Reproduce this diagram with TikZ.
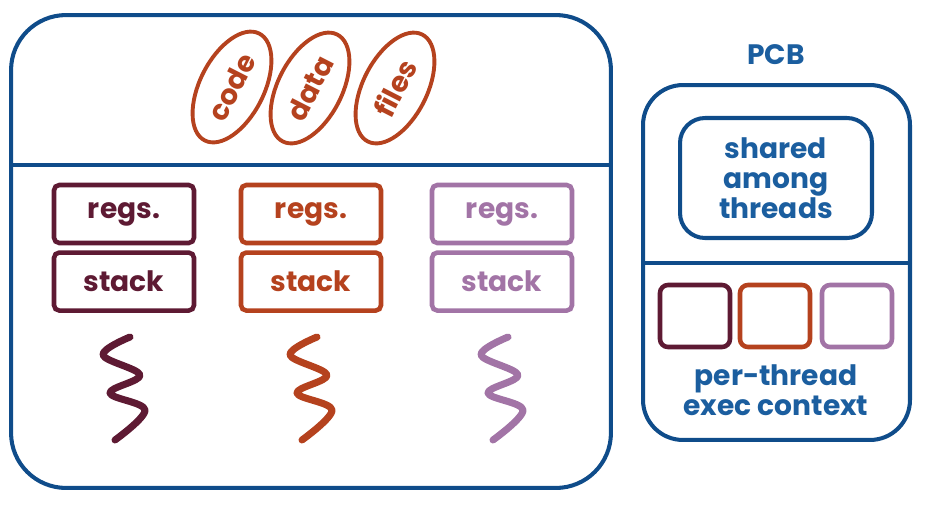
\documentclass[tikz,border=0pt]{standalone}
\usepackage{fontspec}
\setmainfont{Poppins}
\usetikzlibrary{shapes.geometric, positioning}

\definecolor{pcbblue}{HTML}{0F4C8A}
\definecolor{textblue}{HTML}{1B5E9F}
\definecolor{maroon}{HTML}{5E1A33}
\definecolor{rust}{HTML}{B5421E}
\definecolor{mauve}{HTML}{A274A6}

\begin{document}
\begin{tikzpicture}[
    x=0.02cm, y=-0.02cm,
    font=\bfseries\fontsize{16}{17}\selectfont,
    frame/.style={rectangle, draw=pcbblue, line width=2.3pt, rounded corners=1.1cm},
    seg/.style={ellipse, draw=rust, line width=2.2pt, text=rust, minimum width=2.4cm, minimum height=1.28cm, inner sep=0pt, rotate=63},
    ctx/.style={rectangle, draw=#1, text=#1, line width=2.6pt, rounded corners=3pt, minimum width=2.8cm, minimum height=1.16cm, inner sep=0pt},
    slot/.style={rectangle, draw=#1, line width=2.6pt, rounded corners=0.16cm, minimum width=1.4cm, minimum height=1.24cm},
    label/.style={text=textblue, align=center},
    pics/thread/.style={code={
        \draw[#1, line width=4pt, line cap=round, line join=round]
            plot[smooth, tension=0.6] coordinates {(0,0) (-27,18) (10,38) (-20,56) (15,73) (-15,103)};
    }}
]
\useasboundingbox (0,0) rectangle (927,505);

% Process
\node (proc) [frame, minimum width=12cm, minimum height=9.46cm] at (311,251.5) {};
\coordinate (split) at (0,165);
\draw [pcbblue, line width=2.3pt] (proc.west |- split) -- (proc.east |- split);

% Shared segments
\node (code) [seg] at (232,87) {code};
\node (data) [seg] at (310,88) {data};
\node (files) [seg] at (395,88) {files};

% Threads
\node (regs1) [ctx=maroon] at (124,214) {regs.};
\node (stack1) [ctx=maroon, below=0.1cm of regs1] {stack};
\node (regs2) [ctx=rust] at (311,214) {regs.};
\node (stack2) [ctx=rust, below=0.1cm of regs2] {stack};
\node (regs3) [ctx=mauve] at (502,214) {regs.};
\node (stack3) [ctx=mauve, below=0.1cm of regs3] {stack};

\pic at (130,337) {thread=maroon};
\pic at (317,337) {thread=rust};
\pic at (508,337) {thread=mauve};

% PCB
\node (pcb) [frame, rounded corners=0.8cm, minimum width=5.34cm, minimum height=7.1cm] at (776.5,262.5) {};
\node (pcblabel) [label] at (776,55) {PCB};
\node (shared) [frame, label, rounded corners=0.5cm, minimum width=3.84cm, minimum height=2.4cm] at (776,178) {shared\\among\\threads};
\coordinate (pcbsplit) at (0,263);
\draw [pcbblue, line width=2.3pt] (pcb.west |- pcbsplit) -- (pcb.east |- pcbsplit);

\node (slot1) [slot=maroon] at (695,316) {};
\node (slot2) [slot=rust] at (775,316) {};
\node (slot3) [slot=mauve] at (857,316) {};
\node (perthread) [label] at (776,390) {per-thread\\exec context};

\end{tikzpicture}
\end{document}
